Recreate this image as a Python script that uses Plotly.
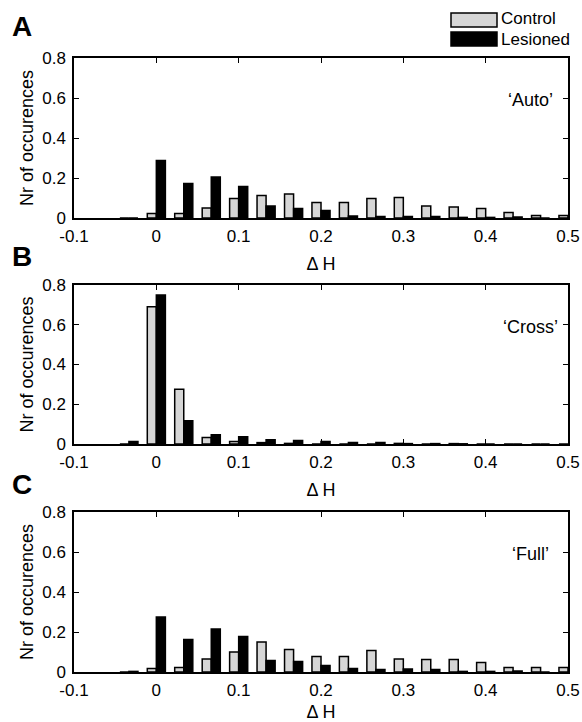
import plotly.graph_objects as go

# ---- data ----
bin_centers = [-0.0333, 0.0, 0.0333, 0.0667, 0.1, 0.1333, 0.1667, 0.2, 0.2333,
               0.2667, 0.3, 0.3333, 0.3667, 0.4, 0.4333, 0.4667, 0.5]

control_auto = [0, 0.022, 0.022, 0.05, 0.097, 0.112, 0.12, 0.077, 0.077,
                0.097, 0.103, 0.06, 0.055, 0.047, 0.028, 0.013, 0.013]
lesioned_auto = [0, 0.288, 0.172, 0.205, 0.158, 0.06, 0.047, 0.037, 0.01,
                 0.008, 0.008, 0.008, 0.003, 0.003, 0.005, 0, 0.003]

control_cross = [0, 0.69, 0.275, 0.033, 0.012, 0.007, 0.003, 0, 0,
                 0, 0.003, 0, 0.002, 0, 0, 0, 0]
lesioned_cross = [0.012, 0.75, 0.117, 0.047, 0.037, 0.022, 0.017, 0.012, 0.008,
                  0.008, 0.002, 0.002, 0.001, 0, 0, 0, 0]

control_full = [0, 0.018, 0.022, 0.065, 0.1, 0.15, 0.112, 0.077, 0.077,
                0.108, 0.065, 0.062, 0.062, 0.047, 0.023, 0.023, 0.023]
lesioned_full = [0.003, 0.275, 0.162, 0.215, 0.178, 0.058, 0.053, 0.032, 0.017,
                 0.012, 0.015, 0.012, 0.003, 0.003, 0.005, 0, 0]

panel_letters = ["A", "B", "C"]
panel_names = ["\u2018Auto\u2019", "\u2018Cross\u2019", "\u2018Full\u2019"]
series_names = ["Control", "Lesioned"]
x_ticks = [-0.1, 0, 0.1, 0.2, 0.3, 0.4, 0.5]
x_ticklabels = ["-0.1", "0", "0.1", "0.2", "0.3", "0.4", "0.5"]
y_ticks = [0, 0.2, 0.4, 0.6, 0.8]
y_ticklabels = ["0", "0.2", "0.4", "0.6", "0.8"]

panels = [(control_auto, lesioned_auto), (control_cross, lesioned_cross),
          (control_full, lesioned_full)]

# ---- layout geometry (pixels) ----
W, H = 582, 722
ML, MR, MT, MB = 74, 14, 58, 50
PW = W - ML - MR
PH = H - MT - MB
panel_px = [(58, 218), (285, 444), (512, 672)]  # top, bottom


def py2paper(py):
    return (H - MB - py) / PH


def px2paper(px):
    return (px - ML) / PW


FONT = "Liberation Sans, Arial, sans-serif"
CONTROL_COLOR = "#d6d6d6"
TICK_SIZE = 17
TEXT_SIZE = 18

fig = go.Figure()

for i, (ctrl, les) in enumerate(panels):
    ax = "" if i == 0 else str(i + 1)
    fig.add_trace(go.Bar(x=bin_centers, y=ctrl, name=series_names[0],
                         marker=dict(color=CONTROL_COLOR, line=dict(color="black", width=1.5)),
                         xaxis="x" + ax, yaxis="y" + ax, showlegend=False))
    fig.add_trace(go.Bar(x=bin_centers, y=les, name=series_names[1],
                         marker=dict(color="black", line=dict(color="black", width=1.5)),
                         xaxis="x" + ax, yaxis="y" + ax, showlegend=False))

layout = dict(
    width=W, height=H,
    margin=dict(l=ML, r=MR, t=MT, b=MB, pad=0),
    paper_bgcolor="white", plot_bgcolor="white",
    barmode="group", bargap=0.34, bargroupgap=0,
    showlegend=False,
    font=dict(family=FONT, size=TICK_SIZE, color="black"),
)

for i, (top, bot) in enumerate(panel_px):
    ax = "" if i == 0 else str(i + 1)
    axis_common = dict(showline=True, linecolor="black", linewidth=1.5, mirror="ticks",
                       ticks="inside", ticklen=5, tickwidth=1.2, tickcolor="black",
                       showgrid=False, zeroline=False, automargin=False,
                       tickfont=dict(family=FONT, size=TICK_SIZE, color="black"))
    layout["xaxis" + ax] = dict(axis_common, domain=[0, 1], range=[-0.1, 0.5],
                                tickvals=x_ticks, ticktext=x_ticklabels,
                                anchor="y" + ax, ticklabelstandoff=2,
                                title=dict(text="\u0394 H", standoff=12,
                                           font=dict(family=FONT, size=TEXT_SIZE)))
    layout["yaxis" + ax] = dict(axis_common, domain=[py2paper(bot), py2paper(top)],
                                range=[0, 0.8], tickvals=y_ticks, ticktext=y_ticklabels,
                                anchor="x" + ax, ticklabelstandoff=3,
                                title=dict(text="Nr of occurences", standoff=4,
                                           font=dict(family=FONT, size=TEXT_SIZE)))

fig.update_layout(**layout)

annotations = []
letter_y = [27, 256, 484]
for i in range(3):
    annotations.append(dict(text="<b>%s</b>" % panel_letters[i], xref="paper", yref="paper",
                            x=px2paper(22), y=py2paper(letter_y[i]), xanchor="center",
                            yanchor="middle", showarrow=False,
                            font=dict(family=FONT, size=28, color="black")))
    ax = "" if i == 0 else str(i + 1)
    annotations.append(dict(text=panel_names[i], xref="x" + ax, yref="y" + ax,
                            x=0.455, y=0.59, xanchor="center", yanchor="middle",
                            showarrow=False, font=dict(family=FONT, size=TEXT_SIZE, color="black")))

# legend (drawn manually to mimic large swatches)
shapes = []
legend_rows = [(13, 27, CONTROL_COLOR, 19, series_names[0]),
               (32, 46, "black", 40, series_names[1])]
for (t, b, col, ty, name) in legend_rows:
    shapes.append(dict(type="rect", xref="paper", yref="paper",
                       x0=px2paper(451), x1=px2paper(497), y0=py2paper(b), y1=py2paper(t),
                       fillcolor=col, line=dict(color="black", width=1.5)))
    annotations.append(dict(text=name, xref="paper", yref="paper",
                            x=px2paper(499), y=py2paper(ty), xanchor="left", yanchor="middle",
                            showarrow=False, font=dict(family=FONT, size=17, color="black")))

fig.update_layout(annotations=annotations, shapes=shapes)

fig.write_html("out.html")
